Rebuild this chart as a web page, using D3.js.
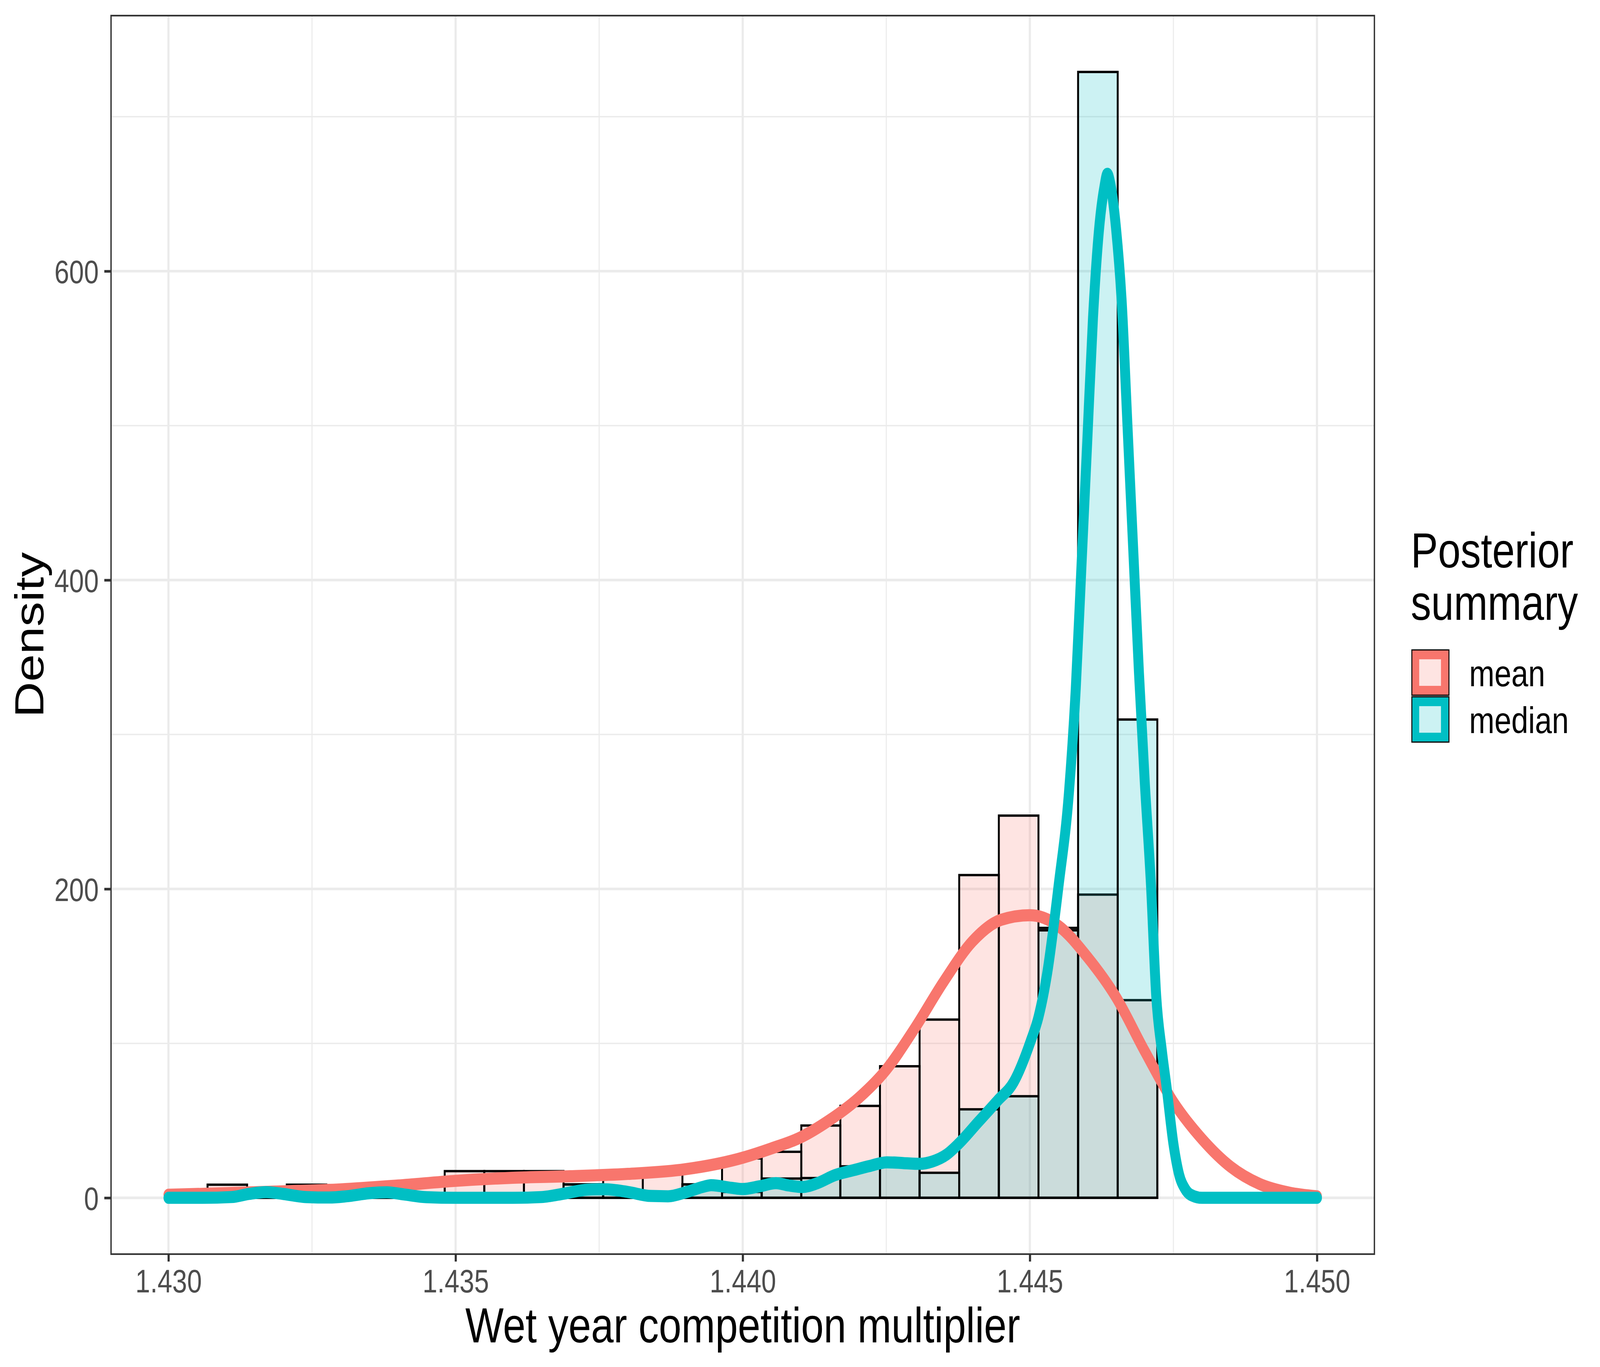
<!DOCTYPE html>
<html>
<head>
<meta charset="utf-8">
<script src="https://cdn.jsdelivr.net/npm/d3@7"></script>
<style>
  html, body { margin: 0; padding: 0; background: #fff; overflow: hidden; }
  svg { display: block; width: 100vw; height: 100vh; }
  text { font-family: "Liberation Sans", Arial, sans-serif; }
</style>
</head>
<body>
<script>
const w = 5000
const h = 3500

// histogram bins (shared edges) and densities per series
const binEdges = [1.43068, 1.43137, 1.43206, 1.43275, 1.43344, 1.43413, 1.43481, 1.43550, 1.43619,
	1.43688, 1.43757, 1.43826, 1.43895, 1.43964, 1.44033, 1.44102, 1.44170, 1.44239, 1.44308,
	1.44377, 1.44446, 1.44515, 1.44584, 1.44653, 1.44722]
const meanDensity = [8.5, 0, 8.5, 0, 0, 8.5, 17.3, 17.3, 17.3, 8.7, 17.3, 17.3, 8.7, 25.5, 29.8,
	46.8, 59.5, 85.2, 115.4, 209, 247.5, 174.8, 196.3, 128]
const medianDensity = [0, 4.3, 0, 0, 4.3, 0, 0, 0, 0, 8.7, 4.3, 0, 8.7, 3.8, 12.5, 12.8, 20.4,
	21.3, 16.2, 57.3, 65.8, 173.2, 729, 309.7]

// kernel density curves
const meanCurveX = [1.430, 1.431, 1.432, 1.433, 1.434, 1.435, 1.436, 1.437, 1.438, 1.439, 1.440,
	1.4405, 1.441, 1.4415, 1.442, 1.4425, 1.443, 1.4435, 1.444, 1.4445, 1.445, 1.4455, 1.446,
	1.4465, 1.447, 1.4475, 1.448, 1.4485, 1.449, 1.4495, 1.450]
const meanCurveY = [2, 3, 4.2, 5.5, 8, 11, 13, 14, 15.5, 18.5, 26, 32, 39, 50, 64, 83, 110, 140,
	166, 180, 183, 176, 156, 130, 95, 62, 38, 20, 9, 3.5, 1]
const medianCurveX = [1.4300, 1.4306, 1.4311, 1.4314, 1.4317, 1.4320, 1.4324, 1.4328, 1.4331,
	1.4335, 1.4338, 1.4341, 1.4345, 1.4350, 1.4360, 1.4365, 1.4369, 1.4373, 1.4376, 1.4380,
	1.4384, 1.4387, 1.4390, 1.4393, 1.43945, 1.4398, 1.4400, 1.4403, 1.44058, 1.4408, 1.44104,
	1.4413, 1.4416, 1.44194, 1.4422, 1.44251, 1.4428, 1.44308, 1.4433, 1.44355, 1.44376, 1.4441,
	1.44444, 1.44472, 1.44501, 1.44515, 1.4453, 1.4455, 1.44568, 1.4458, 1.4459, 1.4460, 1.4461,
	1.4462, 1.4463, 1.44635, 1.4464, 1.4465, 1.4466, 1.4467, 1.4468, 1.4469, 1.4470, 1.44711,
	1.4472, 1.4473, 1.44738, 1.4475, 1.4476, 1.4477, 1.4478, 1.4480, 1.4500]
const medianCurveY = [0, 0, 0.5, 2.5, 3.7, 2.5, 0.5, 0.2, 1, 3, 3.6, 2.2, 0.4, 0, 0, 0.5, 2.8,
	5.3, 5.5, 3.8, 1.2, 1, 3.5, 7, 8.2, 6.5, 5.7, 7.5, 9.5, 8, 7, 9.5, 14.6, 18, 20.5, 23, 22.5,
	22, 23.5, 28, 35, 49, 63, 75, 101, 117, 145, 202, 262, 330, 410, 490, 570, 625, 655, 663, 657,
	628, 580, 500, 420, 340, 270, 202, 131, 95, 72, 35, 15, 6, 2, 0, 0]

const seriesNames = ["mean", "median"]
const seriesColors = ["#F8766D", "#00BFC4"]

const xTicks = [1.430, 1.435, 1.440, 1.445, 1.450]
const xTickLabels = ["1.430", "1.435", "1.440", "1.445", "1.450"]
const xMinor = [1.4325, 1.4375, 1.4425, 1.4475]
const yTicks = [0, 200, 400, 600]
const yMinor = [100, 300, 500, 700]

const pLeft = 347, pRight = 4295, pTop = 40, pBottom = 3211

const x = d3.scaleLinear().domain([1.429, 1.451]).range([pLeft, pRight])
const y = d3.scaleLinear().domain([-36.45, 765.45]).range([pBottom, pTop])

// the drawing is laid out in a 5000x3500 frame and stretched onto the window
const svg = d3.select("body").append("svg")
	.attr("viewBox", `0 0 ${w} ${h}`)
	.attr("preserveAspectRatio", "none")

svg.append("rect").attr("width", w).attr("height", h).attr("fill", "#fff")

// grid
const grid = svg.append("g")
grid.selectAll(".vmin").data(xMinor).enter().append("line")
	.attr("x1", d => x(d)).attr("x2", d => x(d)).attr("y1", pTop).attr("y2", pBottom)
	.attr("stroke", "#EBEBEB").attr("stroke-width", 3.4)
grid.selectAll(".hmin").data(yMinor).enter().append("line")
	.attr("x1", pLeft).attr("x2", pRight).attr("y1", d => y(d)).attr("y2", d => y(d))
	.attr("stroke", "#EBEBEB").attr("stroke-width", 3.4)
grid.selectAll(".vmaj").data(xTicks).enter().append("line")
	.attr("x1", d => x(d)).attr("x2", d => x(d)).attr("y1", pTop).attr("y2", pBottom)
	.attr("stroke", "#EBEBEB").attr("stroke-width", 6.7)
grid.selectAll(".hmaj").data(yTicks).enter().append("line")
	.attr("x1", pLeft).attr("x2", pRight).attr("y1", d => y(d)).attr("y2", d => y(d))
	.attr("stroke", "#EBEBEB").attr("stroke-width", 6.7)

// histogram bars: mean first, median on top (fill alpha 0.2)
const barPath = (d, i) => {
	const p = d3.path()
	const x0 = x(binEdges[i]), x1 = x(binEdges[i + 1])
	p.moveTo(x0, y(0))
	p.lineTo(x0, y(d))
	p.lineTo(x1, y(d))
	p.lineTo(x1, y(0))
	p.closePath()
	return p.toString()
}

const densities = [meanDensity, medianDensity]
densities.forEach((vals, s) => {
	svg.append("g").selectAll("path")
		.data(vals)
		.enter()
		.append("path")
		.attr("d", barPath)
		.attr("fill", seriesColors[s])
		.attr("fill-opacity", 0.2)
		.attr("stroke", "#000")
		.attr("stroke-width", 6)
		.attr("stroke-linejoin", "miter")
})

// density lines
const lineFun = d3.line()
	.curve(d3.curveMonotoneX)
	.x(d => x(d[0]))
	.y(d => y(d[1]))

const curves = [
	d3.zip(meanCurveX, meanCurveY),
	d3.zip(medianCurveX, medianCurveY)
]
curves.forEach((pts, s) => {
	svg.append("path")
		.attr("d", lineFun(pts))
		.attr("fill", "none")
		.attr("stroke", seriesColors[s])
		.attr("stroke-width", 31)
		.attr("stroke-linecap", "round")
		.attr("stroke-linejoin", "round")
})

// panel border
svg.append("rect")
	.attr("x", pLeft).attr("y", pTop)
	.attr("width", pRight - pLeft).attr("height", pBottom - pTop)
	.attr("fill", "none").attr("stroke", "#333333").attr("stroke-width", 4.2)

// axes
const xAxis = svg.append("g")
	.attr("transform", `translate(0,${pBottom})`)
	.call(d3.axisBottom(x).tickValues(xTicks).tickFormat((d, i) => xTickLabels[i])
		.tickSize(19).tickSizeOuter(0).tickPadding(20))
const yAxis = svg.append("g")
	.attr("transform", `translate(${pLeft},0)`)
	.call(d3.axisLeft(y).tickValues(yTicks).tickFormat(d3.format("d"))
		.tickSize(21).tickSizeOuter(0).tickPadding(17.5))

;[xAxis, yAxis].forEach(a => {
	a.select(".domain").remove()
	a.selectAll(".tick line").attr("stroke", "#333333").attr("stroke-width", 6.7)
	a.selectAll(".tick text")
		.attr("fill", "#4D4D4D")
		.attr("font-size", 83)
		.attr("font-family", "'Liberation Sans', Arial, sans-serif")
})
yAxis.selectAll(".tick text").attr("dy", "0.37em")

// axis titles
svg.append("text")
	.text("Wet year competition multiplier")
	.attr("x", (pLeft + pRight) / 2)
	.attr("y", 3437)
	.attr("text-anchor", "middle")
	.attr("font-size", 127)
	.attr("fill", "#000")

svg.append("text")
	.text("Density")
	.attr("transform", `translate(136,${(pTop + pBottom) / 2}) rotate(-90)`)
	.attr("text-anchor", "middle")
	.attr("font-size", 127)
	.attr("fill", "#000")

// legend
const legend = svg.append("g")
legend.append("text").text("Posterior")
	.attr("x", 4409).attr("y", 1453).attr("font-size", 127)
legend.append("text").text("summary")
	.attr("x", 4409).attr("y", 1587).attr("font-size", 127)

const keyY = [1664, 1784]
seriesNames.forEach((name, i) => {
	const k = legend.append("g").attr("transform", `translate(4412,${keyY[i]})`)
	k.append("rect")
		.attr("width", 116).attr("height", 116)
		.attr("fill", seriesColors[i])
		.attr("stroke", "#000").attr("stroke-width", 3)
	k.append("rect")
		.attr("x", 23).attr("y", 24).attr("width", 68).attr("height", 68)
		.attr("fill", "#fff")
	k.append("rect")
		.attr("x", 23).attr("y", 24).attr("width", 68).attr("height", 68)
		.attr("fill", seriesColors[i]).attr("fill-opacity", 0.2)
	legend.append("text").text(name)
		.attr("x", 4591)
		.attr("y", keyY[i] + 58 + 35)
		.attr("font-size", 95)
		.attr("fill", "#000")
})
</script>
</body>
</html>
